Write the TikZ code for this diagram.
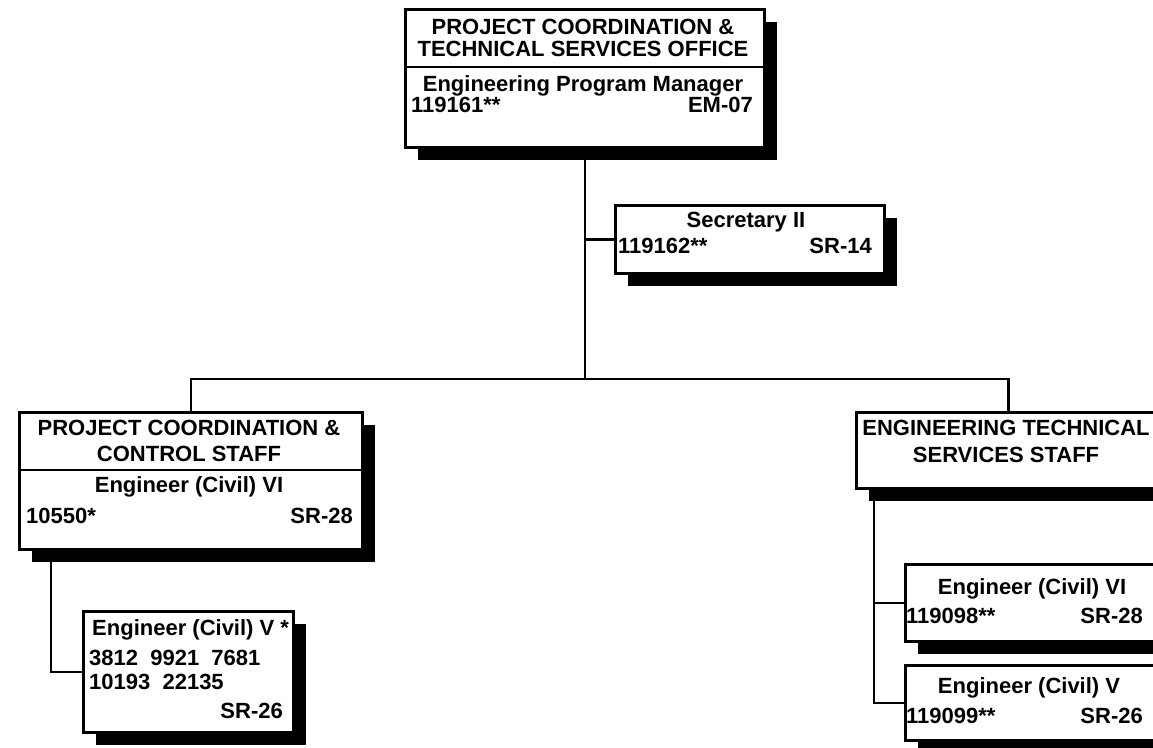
\documentclass[tikz,border=0pt]{standalone}
\usepackage{fontspec}
\setmainfont{Liberation Sans}
\usetikzlibrary{shadows}
\tikzset{
  box/.style={draw=black, line width=2.8pt, fill=white, rectangle, inner sep=0pt, anchor=north west,
    general shadow={fill=black, shadow xshift=13pt, shadow yshift=-13pt}},
  conn/.style={draw=black, line width=2.8pt},
  txt/.style={inner sep=0pt, font=\fontsize{22}{22}\selectfont\bfseries}
}
\begin{document}
\begin{tikzpicture}[x=1pt,y=-1pt]
\useasboundingbox (0,0) rectangle (1153,747);
\clip (0,0) rectangle (1153,747);
% boxes
\node[box, minimum width=359pt, minimum height=138pt] (top) at (404,8) {};
\draw[conn] (top.west |- 0,67) -- (top.east |- 0,67);
\node[box, minimum width=269pt, minimum height=68pt] (sec) at (614,204) {};
\node[box, minimum width=343pt, minimum height=137pt] (lstaff) at (18,411) {};
\draw[conn] (lstaff.west |- 0,470) -- (lstaff.east |- 0,470);
\node[box, minimum width=210pt, minimum height=121pt] (lower) at (82,610) {};
\node[box, minimum width=304pt, minimum height=76pt] (rstaff) at (855,411) {};
\node[box, minimum width=257pt, minimum height=77pt] (rb2) at (904,563) {};
\node[box, minimum width=257pt, minimum height=75pt] (rb3) at (904,664) {};
% connectors
\coordinate (bar) at (top.south |- 0,379);
\coordinate (ldrop) at (51,548);
\coordinate (rdrop) at (874,487);
\draw[conn] (top.south) -- (bar);
\draw[conn] (sec.west) -- (sec.west -| bar);
\draw[conn] (lstaff.north) |- (bar) -| (rstaff.north);
\draw[conn] (ldrop) |- (lower.west);
\draw[conn] (rdrop) |- (rb3.west);
\draw[conn] (rb2.west) -- (rb2.west -| rdrop);
% texts: top
\node[txt, anchor=base] (t1) at (583,34) {PROJECT COORDINATION \&};
\node[txt, anchor=base] (t2) at (583,56) {TECHNICAL SERVICES OFFICE};
\node[txt, anchor=base] (t3) at (583,91) {Engineering Program Manager};
\node[txt, anchor=base west] (t4) at (411,112) {119161**};
\node[txt, anchor=base east] (t5) at (753,112) {EM-07};
% secretary
\node[txt, anchor=base] (s1) at (746,227) {Secretary II};
\node[txt, anchor=base west] (s2) at (618,253) {119162**};
\node[txt, anchor=base east] (s3) at (872,253) {SR-14};
% left staff
\node[txt, anchor=base] (l1) at (189,435) {PROJECT COORDINATION \&};
\node[txt, anchor=base] (l2) at (189,461) {CONTROL STAFF};
\node[txt, anchor=base] (l3) at (189,492) {Engineer (Civil) VI};
\node[txt, anchor=base west] (l4) at (26,523) {10550*};
\node[txt, anchor=base east] (l5) at (353,523) {SR-28};
% lower left
\node[txt, anchor=base west] (b1) at (92,635) {Engineer (Civil) V *};
\node[txt, anchor=base west] (b2) at (89,665) {3812\ \ 9921\ \ 7681};
\node[txt, anchor=base west] (b3) at (89,689) {10193\ \ 22135};
\node[txt, anchor=base east] (b4) at (283,718) {SR-26};
% right staff
\node[txt, anchor=base] (r1) at (1006,435) {ENGINEERING TECHNICAL};
\node[txt, anchor=base] (r2) at (1006,462) {SERVICES STAFF};
% right box 2
\node[txt, anchor=base] (c1) at (1032,594) {Engineer (Civil) VI};
\node[txt, anchor=base west] (c2) at (906,623) {119098**};
\node[txt, anchor=base east] (c3) at (1143,623) {SR-28};
% right box 3
\node[txt, anchor=base] (d1) at (1029,693) {Engineer (Civil) V};
\node[txt, anchor=base west] (d2) at (906,723) {119099**};
\node[txt, anchor=base east] (d3) at (1143,723) {SR-26};
\end{tikzpicture}
\end{document}
